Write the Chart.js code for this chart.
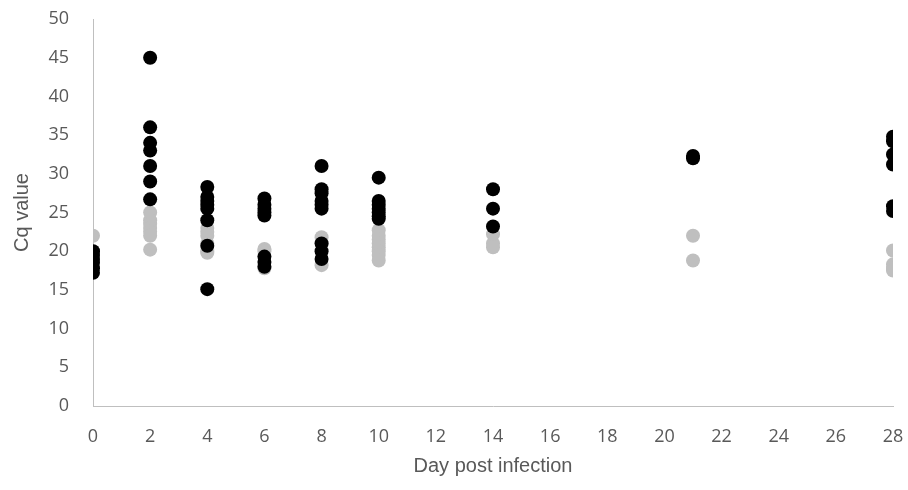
<!DOCTYPE html>
<html>
<head>
<meta charset="utf-8">
<script src="https://cdn.jsdelivr.net/npm/chart.js@4"></script>
<style>
  body { margin: 0; background: #fff; }
  canvas { display: block; }
</style>
</head>
<body>
<canvas id="cqChart" width="908" height="490"></canvas>
<script>
// Cq values, grouped by day post infection
var days = [0, 2, 4, 6, 8, 10, 14, 21, 28];

var grayValues = [
  [22.0, 20.0],
  [25.0, 24.0, 23.5, 23.0, 22.5, 22.0, 20.2],
  [23.0, 22.5, 22.0, 21.0, 20.0, 19.8],
  [20.3, 20.0, 17.8],
  [21.8, 21.0, 18.2],
  [22.7, 22.0, 21.5, 21.0, 20.5, 20.0, 19.5, 18.8],
  [22.2, 21.0, 20.5],
  [22.0, 18.8],
  [20.1, 18.3, 17.8, 17.5]
];

var blackValues = [
  [20.0, 19.5, 19.0, 18.5, 17.8, 17.2],
  [45.0, 36.0, 34.0, 33.0, 31.0, 29.0, 26.7],
  [28.3, 27.0, 26.5, 26.0, 25.5, 24.0, 20.7, 15.1],
  [26.8, 26.0, 25.5, 25.0, 24.6, 19.3, 18.6, 18.0],
  [31.0, 28.0, 27.5, 26.5, 26.0, 25.5, 21.0, 20.0, 19.0],
  [29.5, 26.5, 26.0, 25.5, 25.0, 24.5, 24.2],
  [28.0, 25.5, 23.2],
  [32.3, 32.0],
  [34.8, 34.2, 32.5, 31.2, 25.8, 25.2]
];

var yTicks = [0, 5, 10, 15, 20, 25, 30, 35, 40, 45, 50];
var xTicks = [0, 2, 4, 6, 8, 10, 12, 14, 16, 18, 20, 22, 24, 26, 28];

function toPoints(groups) {
  var pts = [];
  groups.forEach(function (vals, i) {
    vals.forEach(function (v) { pts.push({ x: days[i], y: v }); });
  });
  return pts;
}

var ctx = document.getElementById('cqChart').getContext('2d');
var cqChart = new Chart(ctx, {
  type: 'scatter',
  data: {
    datasets: [{
      label: 'gray',
      data: toPoints(grayValues),
      backgroundColor: '#bfbfbf',
      borderColor: '#bfbfbf',
      pointRadius: 7,
      borderWidth: 0,
      order: 2
    }, {
      label: 'black',
      data: toPoints(blackValues),
      backgroundColor: '#000000',
      borderColor: '#000000',
      pointRadius: 7,
      borderWidth: 0,
      order: 1
    }]
  },
  options: {
    responsive: false,
    animation: false,
    layout: { padding: { left: 0, right: 15, top: 19, bottom: 12 } },
    plugins: { legend: { display: false }, tooltip: { enabled: false } },
    scales: {
      x: {
        type: 'linear',
        min: 0,
        max: 28,
        afterBuildTicks: function (axis) {
          axis.ticks = xTicks.map(function (v) { return { value: v }; });
        },
        afterFit: function (axis) {
          axis.height = 72;
          axis.paddingLeft = 0;
          axis.paddingRight = 0;
        },
        grid: { display: false, drawTicks: false },
        border: { display: true, color: '#bfbfbf', width: 1 },
        ticks: { color: '#595959', font: { family: 'Open Sans', size: 18 }, padding: 20 },
        title: {
          display: true,
          text: 'Day post infection',
          color: '#595959',
          font: { family: 'Liberation Sans', size: 20 },
          padding: { top: 0, bottom: 0 }
        }
      },
      y: {
        min: 0,
        max: 50,
        afterBuildTicks: function (axis) {
          axis.ticks = yTicks.map(function (v) { return { value: v }; });
        },
        afterFit: function (axis) {
          axis.width = 93;
          axis.paddingTop = 0;
          axis.paddingBottom = 0;
        },
        grid: { display: false, drawTicks: false },
        border: { display: true, color: '#bfbfbf', width: 1 },
        ticks: { color: '#595959', font: { family: 'Open Sans', size: 18 }, padding: 24 },
        title: {
          display: true,
          text: 'Cq value',
          color: '#595959',
          font: { family: 'Liberation Sans', size: 20 },
          padding: { top: 10, bottom: 0 }
        }
      }
    }
  }
});
</script>
</body>
</html>
